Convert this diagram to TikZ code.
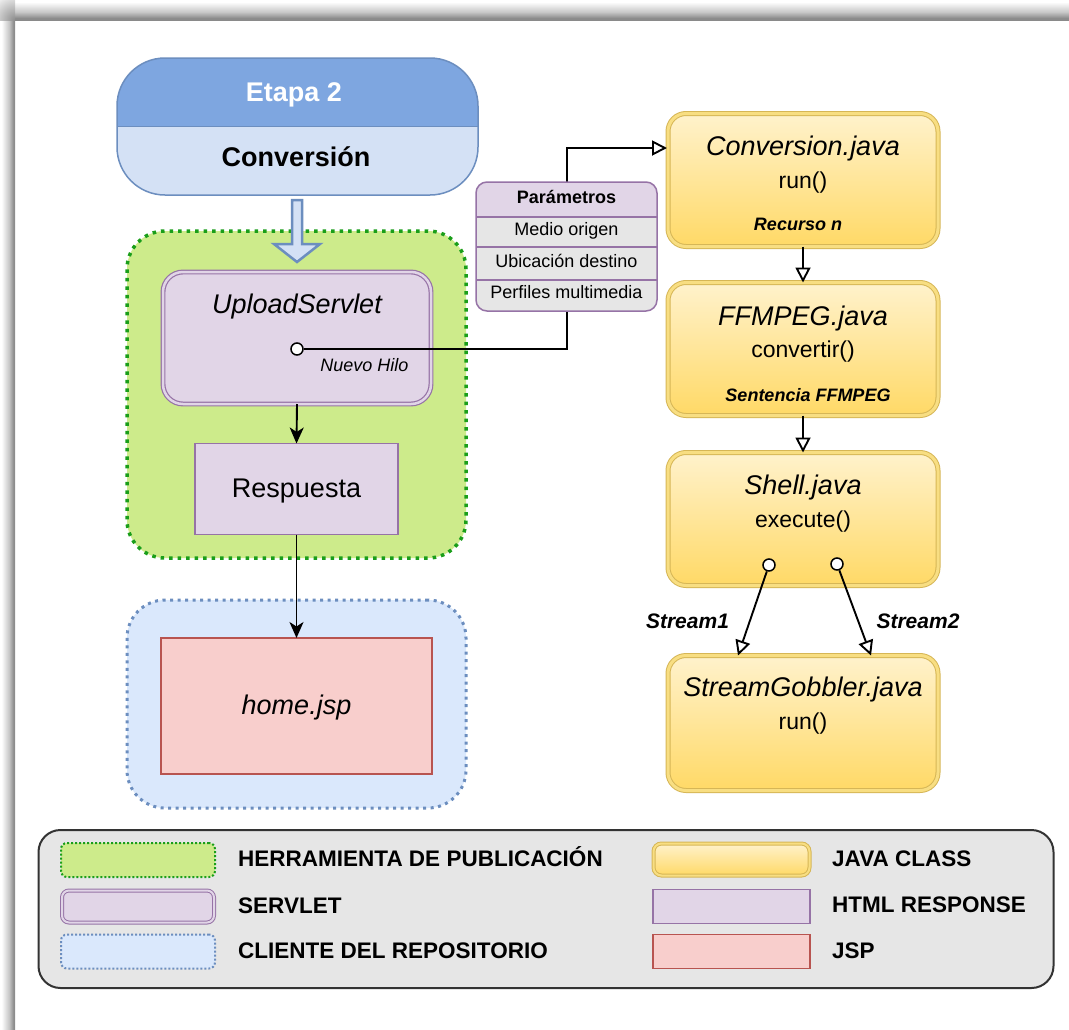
\documentclass[tikz,border=0pt]{standalone}
\usepackage{fontspec}
\setmainfont{Liberation Sans}
\usetikzlibrary{arrows.meta,calc}

\definecolor{stagetop}{HTML}{7EA6E0}
\definecolor{stagelow}{HTML}{D4E1F5}
\definecolor{blueline}{HTML}{6C8EBF}
\definecolor{bluefill}{HTML}{DAE8FC}
\definecolor{greenfill}{HTML}{CDEB8B}
\definecolor{greenline}{HTML}{1A9E1A}
\definecolor{purplefill}{HTML}{E1D5E7}
\definecolor{purpleline}{HTML}{9673A6}
\definecolor{redfill}{HTML}{F8CECC}
\definecolor{redline}{HTML}{B85450}
\definecolor{javatop}{HTML}{FFF2CC}
\definecolor{javabot}{HTML}{FFD966}
\definecolor{javaline}{HTML}{D6B656}
\definecolor{javarim}{HTML}{F8DE82}
\definecolor{legendfill}{HTML}{E6E6E6}
\definecolor{legendline}{HTML}{333333}
\definecolor{rowfill}{HTML}{E6E6E6}

\newcommand\fsz[1]{\fontsize{#1}{#1}\selectfont}

% soft page shadow profiles
\pgfdeclarehorizontalshading{edgeleft}{100bp}{color(0bp)=(white); color(30bp)=(white); color(55bp)=(black!22); color(70bp)=(black!45); color(100bp)=(black!50)}
\pgfdeclareverticalshading{edgetop}{100bp}{color(0bp)=(black!50); color(30bp)=(black!45); color(45bp)=(black!22); color(70bp)=(white); color(100bp)=(white)}

\begin{document}
\begin{tikzpicture}[x=1pt,y=-1pt,
  box/.style={inner sep=0pt, outer sep=0pt},
  lbl/.style={inner sep=0pt, anchor=base},
  javabox/.style={box, draw=javaline, line width=1pt, double=javarim, double distance=3pt,
    top color=javatop, bottom color=javabot, rounded corners=18pt,
    minimum width=270pt, minimum height=133pt},
  servletbox/.style={box, draw=purpleline, line width=1.2pt, double=purplefill,
    double distance=2.5pt, fill=purplefill, rounded corners=20pt},
  htmlbox/.style={box, draw=purpleline, line width=1.5pt, fill=purplefill},
  jspbox/.style={box, draw=redline, line width=1.5pt, fill=redfill},
  toolarea/.style={box, fill=greenfill, draw=greenline, line width=3.5pt,
    dash pattern=on 3.5pt off 5pt, rounded corners=38pt},
  clientarea/.style={box, fill=bluefill, draw=blueline, line width=3pt,
    dash pattern=on 3pt off 4.5pt, rounded corners=38pt},
  conn/.style={line width=1.9pt, draw=black},
  opentip/.style={-{Triangle[open, length=15pt, width=15pt]}},
  solidtip/.style={-{Stealth[length=16pt, width=14pt, inset=4.5pt]}},
  port/.style={circle, draw=black, fill=white, line width=1.5pt,
    minimum size=12pt, inner sep=0pt},
  legendtxt/.style={lbl, anchor=base west, font=\fsz{22.5}\bfseries},
]
\useasboundingbox (0,0) rectangle (1069,1029);
\fill[white] (0,0) rectangle (1069,1029);

% page shadow along the top and left edges
\shade[shading=edgeleft] (0,20) rectangle (15,1029);
\shade[shading=edgetop] (15,0) rectangle (1069,20);
\begin{scope}
  \clip (0,0) rectangle (15,20);
  \shade[inner color=black!45, outer color=white] (15,20) circle (30);
\end{scope}

% ---------- stage header ----------
\node[box, minimum width=361pt, minimum height=137pt] (stage) at (297.5,126.5) {};
\begin{scope}
  \clip[rounded corners=48pt] (stage.north west) rectangle (stage.south east);
  \fill[stagetop] (stage.north west) rectangle (stage.east);
  \fill[stagelow] (stage.west) rectangle (stage.south east);
\end{scope}
\draw[blueline, line width=1.5pt, rounded corners=48pt] (stage.north west) rectangle (stage.south east);
\draw[blueline, line width=1.2pt] (stage.west) -- (stage.east);
\node[lbl, text=white, font=\fsz{27}\bfseries] (stagenum) at (294,101) {Etapa 2};
\node[lbl, font=\fsz{27}\bfseries] (stagename) at (296,166.5) {Conversión};

% ---------- publishing tool area ----------
\node[toolarea, minimum width=339pt, minimum height=327pt] (tool) at (296.5,394.5) {};

% block arrow from the stage into the tool
\draw[blueline, fill=stagelow, line width=2.5pt, line join=miter]
  (292,200) -- (302,200) -- (302,244) -- (320,244) -- (297,262) -- (274,244) -- (292,244) -- cycle;

\node[servletbox, minimum width=268pt, minimum height=132pt] (servlet) at (297,338) {};
\node[lbl, font=\fsz{27}\itshape] (servletname) at (297,313) {UploadServlet};
\node[port] (hilo) at (297,349) {};
\node[lbl, font=\fsz{18}\itshape] (hilolabel) at (364.5,371.5) {Nuevo Hilo};

\node[htmlbox, minimum width=203pt, minimum height=91pt] (resp) at (296.5,489) {};
\node[lbl, font=\fsz{27}] (resplabel) at (296.5,497.5) {Respuesta};

% ---------- repository client area ----------
\node[clientarea, minimum width=339pt, minimum height=208pt] (client) at (296.5,704) {};
\node[jspbox, minimum width=271pt, minimum height=136pt] (home) at (296.5,706) {};
\node[lbl, font=\fsz{27}\itshape] (homelabel) at (296.5,714) {home.jsp};

% ---------- java classes ----------
\node[javabox] (conv) at (803,180) {};
\node[lbl, font=\fsz{27}\itshape] at ($(conv.north)+(0,42)$) {Conversion.java};
\node[lbl, font=\fsz{23}] at ($(conv.north)+(0,74.5)$) {run()};
\node[lbl, font=\fsz{18}\bfseries\itshape] at ($(conv.north)+(-5,117)$) {Recurso n};

\node[javabox] (ffmpeg) at (803,349) {};
\node[lbl, font=\fsz{27}\itshape] at ($(ffmpeg.north)+(0,43)$) {FFMPEG.java};
\node[lbl, font=\fsz{23}] at ($(ffmpeg.north)+(0,74.5)$) {convertir()};
\node[lbl, font=\fsz{18}\bfseries\itshape] at ($(ffmpeg.north)+(5,119)$) {Sentencia FFMPEG};

\node[javabox] (shell) at (803,519) {};
\node[lbl, font=\fsz{27}\itshape] at ($(shell.north)+(0,42)$) {Shell.java};
\node[lbl, font=\fsz{23}] at ($(shell.north)+(0,74.5)$) {execute()};
\node[port] (out1) at (769,565) {};
\node[port] (out2) at (837,564) {};

\node[javabox, minimum height=135pt] (gobbler) at (803,723) {};
\node[lbl, font=\fsz{27}\itshape] at ($(gobbler.north)+(0,41)$) {StreamGobbler.java};
\node[lbl, font=\fsz{23}] at ($(gobbler.north)+(0,74)$) {run()};

% ---------- connectors ----------
\coordinate (bendlow) at (567,349);
\coordinate (bendhigh) at (567,148);
\coordinate (convin) at ($(conv.west)+(-1,-32)$);
\draw[conn, opentip] (hilo.east) -- (bendlow) -- (bendhigh) -- (convin);

\draw[conn, solidtip] (servlet.south) -- (resp.north);
\draw[conn, solidtip] (resp.south) -- (home.north);

\draw[conn, opentip] (conv.south) -- (ffmpeg.north);
\draw[conn, opentip] (ffmpeg.south) -- (shell.north);

\coordinate (in1) at ($(gobbler.north west)+(70,0)$);
\coordinate (in2) at ($(gobbler.north west)+(203,0)$);
\draw[conn, opentip] (out1) -- (in1);
\draw[conn, opentip] (out2) -- (in2);
\node[lbl, font=\fsz{21}\bfseries\itshape] (s1label) at (687.5,628.5) {Stream1};
\node[lbl, font=\fsz{21}\bfseries\itshape] (s2label) at (918,628.5) {Stream2};

% ---------- parameter list ----------
\node[box, minimum width=181pt, minimum height=129pt] (params) at (566.5,246.5) {};
\begin{scope}
  \clip[rounded corners=11pt] (params.north west) rectangle (params.south east);
  \fill[purplefill] (params.north west) rectangle (657,217);
  \fill[rowfill] (476,217) rectangle (params.south east);
\end{scope}
\draw[purpleline, line width=1.2pt] (476,217) -- (657,217);
\draw[purpleline, line width=1.2pt] (476,247) -- (657,247);
\draw[purpleline, line width=1.2pt] (476,280) -- (657,280);
\draw[purpleline, line width=1.5pt, rounded corners=11pt] (params.north west) rectangle (params.south east);
\node[lbl, font=\fsz{18}\bfseries] (ptitle) at (566.5,203.5) {Parámetros};
\node[lbl, font=\fsz{18}] (prow1) at (566.5,235.5) {Medio origen};
\node[lbl, font=\fsz{18}] (prow2) at (566.5,267) {Ubicación destino};
\node[lbl, font=\fsz{18}] (prow3) at (566.5,298) {Perfiles multimedia};

% ---------- legend ----------
\node[box, fill=legendfill, draw=legendline, line width=2pt, rounded corners=22pt,
  minimum width=1015pt, minimum height=158pt] (legend) at (546,909) {};

\node[box, fill=greenfill, draw=greenline, line width=2pt, dash pattern=on 2pt off 2pt,
  rounded corners=6pt, minimum width=154pt, minimum height=34pt] (kTool) at (138,860) {};
\node[servletbox, line width=1pt, double distance=2pt, rounded corners=7pt,
  minimum width=152pt, minimum height=32pt] (kServlet) at (138,906.5) {};
\node[box, fill=bluefill, draw=blueline, line width=2pt, dash pattern=on 2pt off 2pt,
  rounded corners=6pt, minimum width=154pt, minimum height=34pt] (kClient) at (138,951.5) {};

\node[javabox, double distance=2pt, rounded corners=8pt,
  minimum width=156pt, minimum height=32pt] (kJava) at (731.5,859.5) {};
\node[htmlbox, minimum width=157pt, minimum height=34pt] (kHtml) at (731.5,906.5) {};
\node[jspbox, minimum width=157pt, minimum height=34pt] (kJsp) at (731.5,951.5) {};

\node[legendtxt] at (238,866.5) {HERRAMIENTA DE PUBLICACIÓN};
\node[legendtxt] at (238,913) {SERVLET};
\node[legendtxt] at (238,958) {CLIENTE DEL REPOSITORIO};
\node[legendtxt] at (832,866.5) {JAVA CLASS};
\node[legendtxt] at (832,912.5) {HTML RESPONSE};
\node[legendtxt] at (832,958) {JSP};
\end{tikzpicture}
\end{document}
